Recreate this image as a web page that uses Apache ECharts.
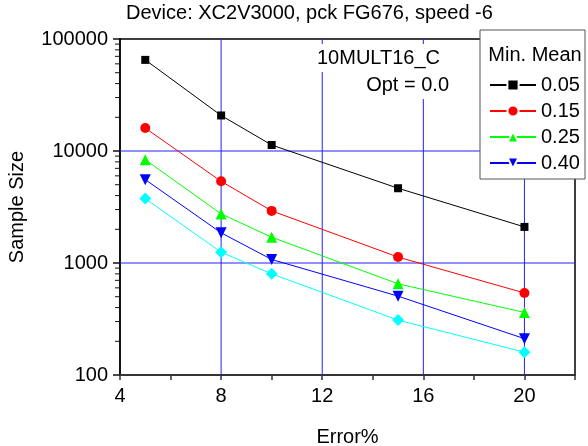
<!DOCTYPE html>
<html><head><meta charset="utf-8">
<script src="https://cdn.jsdelivr.net/npm/echarts@6/dist/echarts.min.js"></script>
<style>html,body{margin:0;padding:0;background:#fff}#c{width:588px;height:446px}</style>
</head><body><div id="c"></div>
<script>
const errors = [5, 8, 10, 15, 20];
const mean005 = [65100, 20760, 11310, 4650, 2100];
const mean015 = [16030, 5360, 2920, 1130, 540];
const mean025 = [8360, 2745, 1700, 652, 362];
const mean040 = [5550, 1860, 1075, 506, 211];
const meanExtra = [3760, 1250, 800, 309, 160];
const legendNames = ['0.05', '0.15', '0.25', '0.40'];
const xTicks = [4, 8, 12, 16, 20];
const yTicks = [100, 1000, 10000, 100000];
const gridX = [8, 12, 16, 20];
const gridY = [1000, 10000];

const FONT = 'Liberation Sans, Arial, sans-serif';
function pts(vals){ return errors.map((x,i)=>[x, vals[i]]); }
const minorVals = [];
for (let d = 100; d < 100000; d *= 10) for (let k = 2; k <= 9; k++) minorVals.push([4, k*d]);
const gridData = gridX.map(v=>[0, v]).concat(gridY.map(v=>[1, v]));

function mk(name, vals, color, symbol, size, rot){
  return {type:'line', name, data: pts(vals), symbol, symbolSize:size, symbolRotate: rot||0,
    lineStyle:{color, width:1}, itemStyle:{color}, z:3, animation:false};
}

const chart = echarts.init(document.getElementById('c'), null, {renderer:'canvas'});
chart.setOption({
  animation:false,
  textStyle:{fontFamily:FONT},
  grid:{left:120, right:13, top:39, bottom:71, containLabel:false, outerBoundsMode:'none'},
  xAxis:[{type:'value', min:4, max:22, interval:2,
    name:'Error%', nameLocation:'middle', nameGap:52, nameTextStyle:{fontSize:20, color:'#000', fontFamily:FONT},
    axisLine:{lineStyle:{color:'#333', width:2}},
    axisTick:{show:true, length:5, lineStyle:{color:'#333', width:1.5}},
    axisLabel:{fontSize:20, color:'#000', margin:11, fontFamily:FONT,
      formatter:v => xTicks.indexOf(v) >= 0 ? String(v) : ''},
    splitLine:{show:false}, minorSplitLine:{show:false}},
   {type:'value', position:'top', min:4, max:22, interval:2, axisLine:{show:true, lineStyle:{color:'#000', width:1.5}},
    axisTick:{show:false}, axisLabel:{show:false}, splitLine:{show:false}, minorSplitLine:{show:false}}],
  yAxis:[{type:'log', logBase:10, min:100, max:100000,
    name:'Sample Size', nameLocation:'middle', nameGap:93, nameTextStyle:{fontSize:20, color:'#000', fontFamily:FONT},
    axisLine:{show:true, lineStyle:{color:'#111', width:2}},
    axisTick:{show:true, length:7, lineStyle:{color:'#111', width:1.5}},
    axisLabel:{fontSize:20, color:'#000', margin:12, fontFamily:FONT,
      formatter:v => yTicks.indexOf(Math.round(v)) >= 0 ? String(Math.round(v)) : ''},
    splitLine:{show:false}, minorSplitLine:{show:false}},
   {type:'log', logBase:10, position:'right', min:100, max:100000, axisLine:{show:true, lineStyle:{color:'#000', width:1.5}},
    axisTick:{show:false}, axisLabel:{show:false}, splitLine:{show:false}, minorSplitLine:{show:false}}],
  legend:{data:legendNames, orient:'vertical', left:484, top:70, itemWidth:46, itemHeight:14, itemGap:6,
    itemStyle:{borderColor:'#fff', borderWidth:2},
    textStyle:{fontSize:20, color:'#000', lineHeight:20, fontFamily:FONT}, z:20, selectedMode:false},
  graphic:[
    {type:'rect', z:10, shape:{x:480, y:30, width:105, height:149}, style:{fill:'#fff', stroke:'#555', lineWidth:1}},
    {type:'text', z:20, x:535, y:55, style:{text:'Min. Mean', fontSize:20, fontFamily:FONT, fill:'#000', align:'center', verticalAlign:'middle'}},
    {type:'text', z:5, x:314, y:58, style:{text:'10MULT16_C', fontSize:20, fontFamily:FONT, fill:'#000', align:'left', verticalAlign:'middle', backgroundColor:'#fff', padding:[4,3,4,3]}},
    {type:'text', z:5, x:452, y:85, style:{text:'Opt = 0.0', fontSize:20, fontFamily:FONT, fill:'#000', align:'right', verticalAlign:'middle', backgroundColor:'#fff', padding:[4,3,4,3]}},
    {type:'text', z:5, x:126, y:13, style:{text:'Device: XC2V3000, pck FG676, speed -6', fontSize:20, fontFamily:FONT, fill:'#000', align:'left', verticalAlign:'middle'}}
  ],
  series:[
    {type:'custom', name:'gridlines', data:gridData, z:1, silent:true, clip:false,
      renderItem:(params, api)=>{
        let a, b;
        if (api.value(0) === 0) { a = api.coord([api.value(1), 100]); b = api.coord([api.value(1), 100000]); }
        else { a = api.coord([4, api.value(1)]); b = api.coord([22, api.value(1)]); }
        return {type:'line', shape:{x1:a[0], y1:a[1], x2:b[0], y2:b[1]}, style:{stroke:'#2020ff', lineWidth:1}};
      }},
    {type:'custom', name:'minor', data:minorVals, z:4, silent:true, clip:false,
      renderItem:(params, api)=>{
        const p = api.coord([api.value(0), api.value(1)]);
        return {type:'line', shape:{x1:p[0]-5, y1:p[1], x2:p[0], y2:p[1]}, style:{stroke:'#111', lineWidth:1}};
      }},
    mk('0.05', mean005, '#000000', 'rect', 8),
    mk('0.15', mean015, '#ff0000', 'circle', 10),
    mk('0.25', mean025, '#00ff00', 'triangle', 11),
    mk('0.40', mean040, '#0000ff', 'triangle', 11, 180),
    mk('0.60', meanExtra, '#00ffff', 'diamond', 12)
  ]
});
</script></body></html>
